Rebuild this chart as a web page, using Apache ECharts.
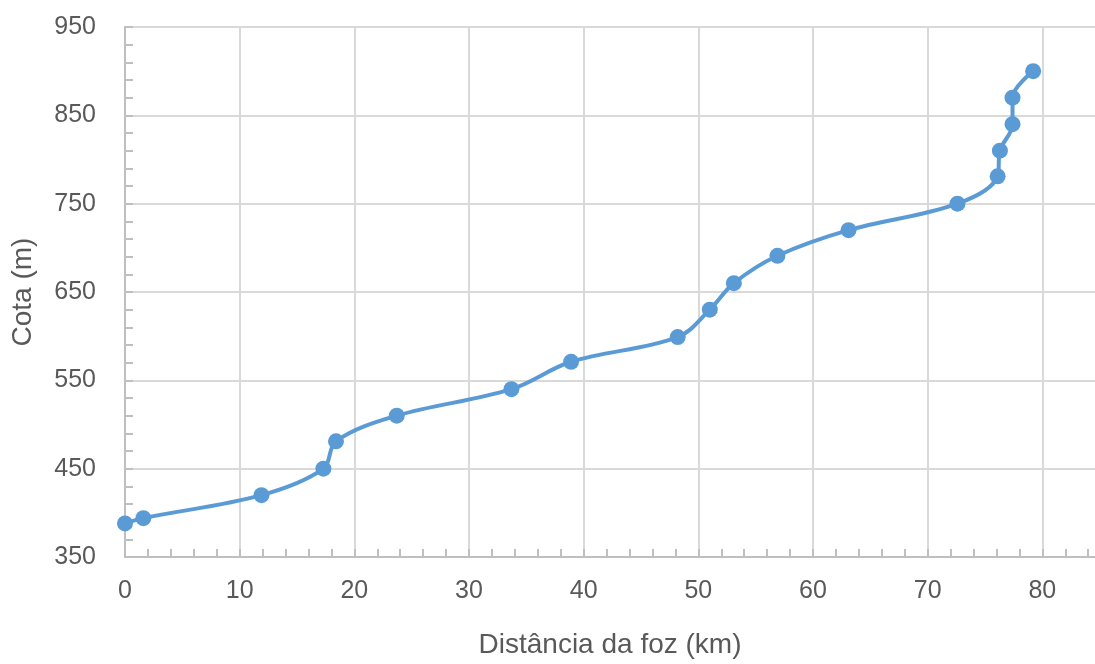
<!DOCTYPE html>
<html>
<head>
<meta charset="utf-8">
<script src="https://cdn.jsdelivr.net/npm/echarts@6/dist/echarts.min.js"></script>
<style>
  html, body { margin: 0; padding: 0; background: #fff; overflow: hidden; width: 1095px; height: 664px; }
  #chart { width: 1157px; height: 664px; }
</style>
</head>
<body>
<div id="chart"></div>
<script>
// Data
const distanciaKm = [0, 1.6, 11.9, 17.3, 18.4, 23.7, 33.7, 38.9, 48.2, 51.0, 53.1, 56.9, 63.1, 72.6, 76.1, 76.3, 77.4, 77.4, 79.2];
const cotaM      = [388, 394, 420, 450, 481, 510, 540, 571, 599, 630, 660, 691, 720, 750, 781, 810, 840, 870, 900];
const xTitle = 'Distância da foz (km)';
const yTitle = 'Cota (m)';

const points = distanciaKm.map((d, i) => [d, cotaM[i]]);
const txt = '#595959';
const font = '"Liberation Sans", Arial, sans-serif';

const chart = echarts.init(document.getElementById('chart'));
chart.setOption({
  animation: false,
  backgroundColor: '#ffffff',
  grid: { left: 125, top: 27, right: 0, bottom: 107, containLabel: false },
  xAxis: {
    type: 'value',
    min: 0, max: 90, interval: 10,
    name: xTitle, nameLocation: 'middle', nameGap: 74,
    nameTextStyle: { color: txt, fontSize: 28, fontFamily: font, padding: [0, 62, 0, 0] },
    axisLine: { show: true, lineStyle: { color: '#bfbfbf', width: 2 } },
    axisTick: { show: true, inside: true, length: 8, lineStyle: { color: '#bfbfbf', width: 2 } },
    minorTick: { show: true, splitNumber: 5, length: 8, lineStyle: { color: '#bfbfbf', width: 2 } },
    axisLabel: { color: txt, fontSize: 25, fontFamily: font, margin: 22, showMaxLabel: false },
    splitLine: { show: true, lineStyle: { color: '#d9d9d9', width: 2 } }
  },
  yAxis: {
    type: 'value',
    min: 350, max: 950, interval: 100,
    name: yTitle, nameLocation: 'middle', nameGap: 88, nameRotate: 90,
    nameTextStyle: { color: txt, fontSize: 28, fontFamily: font },
    axisLine: { show: true, lineStyle: { color: '#bfbfbf', width: 2 } },
    axisTick: { show: true, inside: true, length: 8, lineStyle: { color: '#bfbfbf', width: 2 } },
    minorTick: { show: true, splitNumber: 5, length: 8, lineStyle: { color: '#bfbfbf', width: 2 } },
    axisLabel: { color: txt, fontSize: 25, fontFamily: font, margin: 29 },
    splitLine: { show: true, lineStyle: { color: '#d9d9d9', width: 2 } }
  },
  series: [{
    type: 'line',
    data: points,
    smooth: 0.35,
    symbol: 'circle',
    symbolSize: 16,
    lineStyle: { color: '#5b9bd5', width: 4 },
    itemStyle: { color: '#5b9bd5' }
  }]
});
</script>
</body>
</html>
